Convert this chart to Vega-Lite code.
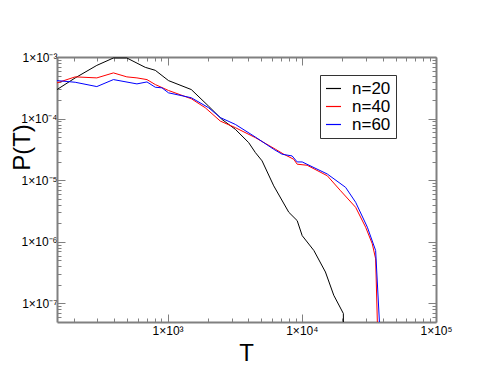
{
  "$schema": "https://vega.github.io/schema/vega-lite/v6.json",
  "width": 379,
  "height": 265,
  "autosize": {"type": "none"},
  "padding": {"left": 57, "top": 57, "right": 55, "bottom": 57},
  "config": {"view": {"stroke": null}, "font": "Liberation Sans", "background": "white"},
  "data": {"values": [
    {"n": "n=20", "T": 150, "P": 2.96e-4},
    {"n": "n=20", "T": 205, "P": 4.58e-4},
    {"n": "n=20", "T": 297, "P": 7.31e-4},
    {"n": "n=20", "T": 395, "P": 9.64e-4},
    {"n": "n=20", "T": 497, "P": 9.64e-4},
    {"n": "n=20", "T": 682, "P": 6.79e-4},
    {"n": "n=20", "T": 810, "P": 6.08e-4},
    {"n": "n=20", "T": 1016, "P": 4.14e-4},
    {"n": "n=20", "T": 1503, "P": 2.96e-4},
    {"n": "n=20", "T": 2023, "P": 1.59e-4},
    {"n": "n=20", "T": 2545, "P": 9.7e-5},
    {"n": "n=20", "T": 3200, "P": 6.7e-5},
    {"n": "n=20", "T": 4020, "P": 4.08e-5},
    {"n": "n=20", "T": 4510, "P": 2.81e-5},
    {"n": "n=20", "T": 5060, "P": 2.06e-5},
    {"n": "n=20", "T": 6180, "P": 8.1e-6},
    {"n": "n=20", "T": 8000, "P": 3.02e-6},
    {"n": "n=20", "T": 9240, "P": 2.21e-6},
    {"n": "n=20", "T": 10070, "P": 1.26e-6},
    {"n": "n=20", "T": 12300, "P": 7.24e-7},
    {"n": "n=20", "T": 15000, "P": 3.24e-7},
    {"n": "n=20", "T": 17300, "P": 1.36e-7},
    {"n": "n=20", "T": 20400, "P": 6.87e-8},
    {"n": "n=20", "T": 20600, "P": 1e-8},
    {"n": "n=40", "T": 150, "P": 3.8e-4},
    {"n": "n=40", "T": 205, "P": 4.76e-4},
    {"n": "n=40", "T": 297, "P": 4.58e-4},
    {"n": "n=40", "T": 395, "P": 5.52e-4},
    {"n": "n=40", "T": 497, "P": 4.76e-4},
    {"n": "n=40", "T": 591, "P": 4.58e-4},
    {"n": "n=40", "T": 702, "P": 4.3e-4},
    {"n": "n=40", "T": 810, "P": 3.57e-4},
    {"n": "n=40", "T": 1016, "P": 2.86e-4},
    {"n": "n=40", "T": 1503, "P": 2.1e-4},
    {"n": "n=40", "T": 1910, "P": 1.5e-4},
    {"n": "n=40", "T": 2470, "P": 9.12e-5},
    {"n": "n=40", "T": 3200, "P": 7.13e-5},
    {"n": "n=40", "T": 4510, "P": 4.91e-5},
    {"n": "n=40", "T": 6370, "P": 3.18e-5},
    {"n": "n=40", "T": 7350, "P": 2.64e-5},
    {"n": "n=40", "T": 8710, "P": 2.19e-5},
    {"n": "n=40", "T": 9240, "P": 1.82e-5},
    {"n": "n=40", "T": 10960, "P": 1.75e-5},
    {"n": "n=40", "T": 15500, "P": 1.18e-5},
    {"n": "n=40", "T": 19450, "P": 6.75e-6},
    {"n": "n=40", "T": 25200, "P": 3.63e-6},
    {"n": "n=40", "T": 29900, "P": 1.73e-6},
    {"n": "n=40", "T": 33500, "P": 9.3e-7},
    {"n": "n=40", "T": 35500, "P": 5.3e-7},
    {"n": "n=40", "T": 37300, "P": 1e-8},
    {"n": "n=60", "T": 150, "P": 4.14e-4},
    {"n": "n=60", "T": 205, "P": 3.89e-4},
    {"n": "n=60", "T": 297, "P": 3.31e-4},
    {"n": "n=60", "T": 395, "P": 4.3e-4},
    {"n": "n=60", "T": 591, "P": 3.66e-4},
    {"n": "n=60", "T": 702, "P": 3.94e-4},
    {"n": "n=60", "T": 810, "P": 3.23e-4},
    {"n": "n=60", "T": 908, "P": 3.16e-4},
    {"n": "n=60", "T": 1016, "P": 2.62e-4},
    {"n": "n=60", "T": 1503, "P": 2.18e-4},
    {"n": "n=60", "T": 2023, "P": 1.5e-4},
    {"n": "n=60", "T": 2470, "P": 1.04e-4},
    {"n": "n=60", "T": 3200, "P": 8.05e-5},
    {"n": "n=60", "T": 4510, "P": 5.02e-5},
    {"n": "n=60", "T": 6180, "P": 3.18e-5},
    {"n": "n=60", "T": 7140, "P": 2.64e-5},
    {"n": "n=60", "T": 8470, "P": 2.48e-5},
    {"n": "n=60", "T": 9240, "P": 1.98e-5},
    {"n": "n=60", "T": 10070, "P": 1.98e-5},
    {"n": "n=60", "T": 15500, "P": 1.26e-5},
    {"n": "n=60", "T": 21200, "P": 7.66e-6},
    {"n": "n=60", "T": 25200, "P": 4.38e-6},
    {"n": "n=60", "T": 30800, "P": 1.73e-6},
    {"n": "n=60", "T": 35500, "P": 7.24e-7},
    {"n": "n=60", "T": 39400, "P": 1e-8}
  ]},
  "layer": [
    {
      "mark": {"type": "line", "clip": true, "strokeWidth": 1},
      "encoding": {
        "x": {
          "field": "T", "type": "quantitative",
          "scale": {"type": "log", "domain": [150, 100000], "nice": false},
          "axis": {
            "orient": "bottom",
            "values": [200, 300, 400, 500, 600, 700, 800, 900, 1000, 2000, 3000, 4000, 5000, 6000, 7000, 8000, 9000, 10000, 20000, 30000, 40000, 50000, 60000, 70000, 80000, 90000, 100000],
            "tickSize": {"condition": {"test": "abs(log(datum.value)/LN10 - round(log(datum.value)/LN10)) < 0.000001", "value": -8}, "value": -4},
            "labelExpr": "abs(log(datum.value)/LN10 - round(log(datum.value)/LN10)) < 0.000001 ? '1×10' + (round(log(datum.value)/LN10) < 0 ? '⁻' : '') + substring('⁰¹²³⁴⁵⁶⁷⁸⁹', abs(round(log(datum.value)/LN10)), abs(round(log(datum.value)/LN10)) + 1) : ''",
            "labelFontSize": 12, "labelColor": "#000", "labelPadding": 11,
            "labelOverlap": false, "labelFlush": false,
            "domainColor": "#808080", "domainWidth": 2, "tickColor": "#808080", "tickWidth": 1,
            "grid": false,
            "title": "T", "titleFontSize": 24, "titleFontWeight": "normal", "titleColor": "#000",
            "titleX": 189, "titleY": 38, "titleBaseline": "alphabetic", "titleAlign": "center"
          }
        },
        "y": {
          "field": "P", "type": "quantitative",
          "scale": {"type": "log", "domain": [5e-8, 0.001], "nice": false},
          "axis": {
            "orient": "left",
            "values": [6e-8, 7e-8, 8e-8, 9e-8, 1e-7, 2e-7, 3e-7, 4e-7, 5e-7, 6e-7, 7e-7, 8e-7, 9e-7, 1e-6, 2e-6, 3e-6, 4e-6, 5e-6, 6e-6, 7e-6, 8e-6, 9e-6, 1e-5, 2e-5, 3e-5, 4e-5, 5e-5, 6e-5, 7e-5, 8e-5, 9e-5, 0.0001, 0.0002, 0.0003, 0.0004, 0.0005, 0.0006, 0.0007, 0.0008, 0.0009, 0.001],
            "tickSize": {"condition": {"test": "abs(log(datum.value)/LN10 - round(log(datum.value)/LN10)) < 0.000001", "value": -8}, "value": -4},
            "labelExpr": "abs(log(datum.value)/LN10 - round(log(datum.value)/LN10)) < 0.000001 ? '1×10' + (round(log(datum.value)/LN10) < 0 ? '⁻' : '') + substring('⁰¹²³⁴⁵⁶⁷⁸⁹', abs(round(log(datum.value)/LN10)), abs(round(log(datum.value)/LN10)) + 1) : ''",
            "labelFontSize": 12, "labelColor": "#000", "labelPadding": 8,
            "labelOverlap": false, "labelFlush": false,
            "domainColor": "#808080", "domainWidth": 2, "tickColor": "#808080", "tickWidth": 1,
            "grid": false,
            "title": "P(T)", "titleFontSize": 24, "titleFontWeight": "normal", "titleColor": "#000",
            "titleX": -35, "titleY": 90, "titleBaseline": "middle", "titleAlign": "center", "titleAngle": -90
          }
        },
        "color": {
          "field": "n", "type": "nominal",
          "scale": {"domain": ["n=20", "n=40", "n=60"], "range": ["#000000", "#ff0000", "#0000ff"]},
          "legend": {
            "orient": "none", "legendX": 263, "legendY": 18, "title": null,
            "strokeColor": "#333", "fillColor": "white", "padding": 5, "cornerRadius": 0,
            "symbolType": "stroke", "symbolSize": 225, "symbolStrokeWidth": 1.2, "symbolOpacity": 1,
            "labelFontSize": 17, "labelColor": "#000", "labelOffset": 10, "rowPadding": 0
          }
        }
      }
    },
    {
      "mark": {"type": "line", "opacity": 0},
      "encoding": {
        "x": {
          "field": "T", "type": "quantitative",
          "axis": {
            "orient": "top",
            "values": [200, 300, 400, 500, 600, 700, 800, 900, 1000, 2000, 3000, 4000, 5000, 6000, 7000, 8000, 9000, 10000, 20000, 30000, 40000, 50000, 60000, 70000, 80000, 90000, 100000],
            "tickSize": {"condition": {"test": "abs(log(datum.value)/LN10 - round(log(datum.value)/LN10)) < 0.000001", "value": -8}, "value": -4},
            "labels": false, "title": null, "grid": false,
            "domainColor": "#808080", "domainWidth": 2, "tickColor": "#808080", "tickWidth": 1
          }
        },
        "y": {
          "field": "P", "type": "quantitative",
          "axis": {
            "orient": "right",
            "values": [6e-8, 7e-8, 8e-8, 9e-8, 1e-7, 2e-7, 3e-7, 4e-7, 5e-7, 6e-7, 7e-7, 8e-7, 9e-7, 1e-6, 2e-6, 3e-6, 4e-6, 5e-6, 6e-6, 7e-6, 8e-6, 9e-6, 1e-5, 2e-5, 3e-5, 4e-5, 5e-5, 6e-5, 7e-5, 8e-5, 9e-5, 0.0001, 0.0002, 0.0003, 0.0004, 0.0005, 0.0006, 0.0007, 0.0008, 0.0009, 0.001],
            "tickSize": {"condition": {"test": "abs(log(datum.value)/LN10 - round(log(datum.value)/LN10)) < 0.000001", "value": -8}, "value": -4},
            "labels": false, "title": null, "grid": false,
            "domainColor": "#808080", "domainWidth": 2, "tickColor": "#808080", "tickWidth": 1
          }
        },
        "detail": {"field": "n", "type": "nominal"}
      }
    }
  ],
  "resolve": {"axis": {"x": "independent", "y": "independent"}}
}
